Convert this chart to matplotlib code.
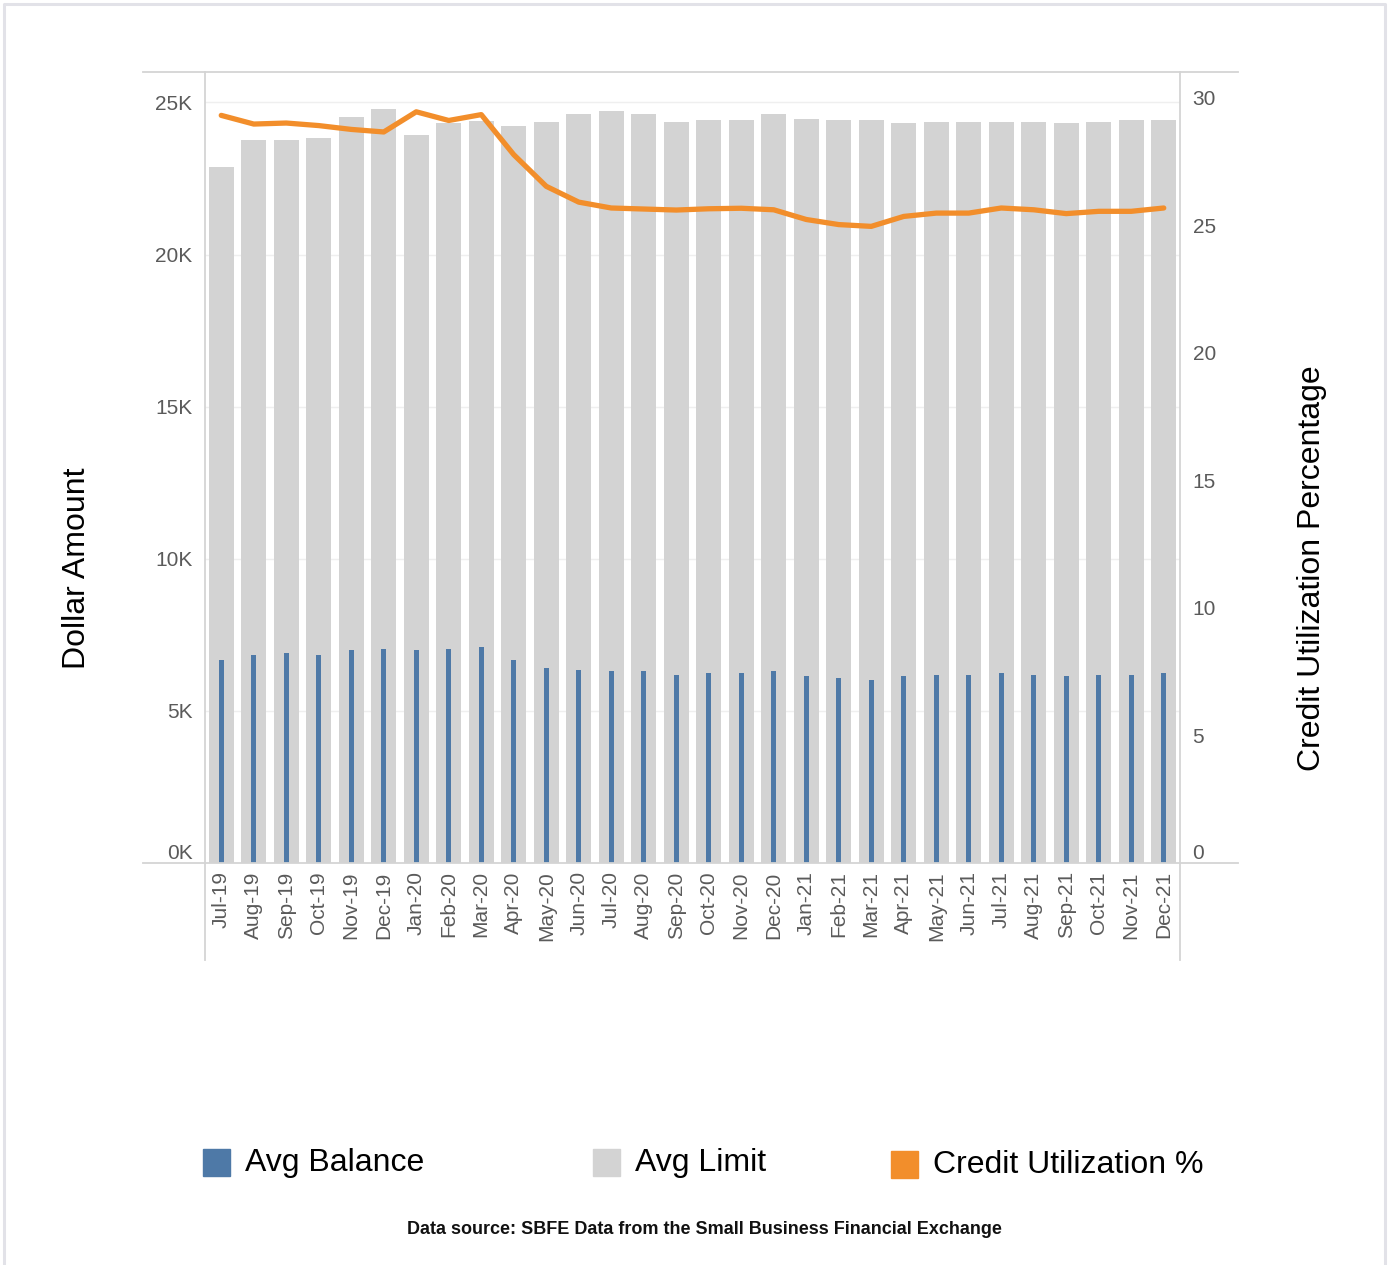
import matplotlib.pyplot as plt
from matplotlib.lines import Line2D
from matplotlib.patches import Rectangle
import numpy as np

# monthly SBFE figures, Jul 2019 - Dec 2021
months = ['Jul-19', 'Aug-19', 'Sep-19', 'Oct-19', 'Nov-19', 'Dec-19',
          'Jan-20', 'Feb-20', 'Mar-20', 'Apr-20', 'May-20', 'Jun-20',
          'Jul-20', 'Aug-20', 'Sep-20', 'Oct-20', 'Nov-20', 'Dec-20',
          'Jan-21', 'Feb-21', 'Mar-21', 'Apr-21', 'May-21', 'Jun-21',
          'Jul-21', 'Aug-21', 'Sep-21', 'Oct-21', 'Nov-21', 'Dec-21']

# dollars
avg_limit = [22870, 23780, 23780, 23830, 24530, 24790,
             23930, 24330, 24380, 24210, 24360, 24620,
             24730, 24620, 24360, 24410, 24410, 24620,
             24460, 24410, 24410, 24310, 24360, 24360,
             24360, 24360, 24310, 24360, 24410, 24410]

avg_balance = [6680, 6840, 6900, 6840, 7010, 7050,
               7010, 7050, 7110, 6680, 6410, 6360,
               6300, 6300, 6190, 6250, 6250, 6300,
               6140, 6090, 6030, 6140, 6190, 6190,
               6250, 6190, 6140, 6190, 6190, 6250]

# percent
utilization = [29.30, 28.96, 29.00, 28.90, 28.75, 28.65,
               29.44, 29.10, 29.33, 27.76, 26.52, 25.90,
               25.67, 25.63, 25.59, 25.64, 25.66, 25.60,
               25.22, 25.02, 24.95, 25.34, 25.47, 25.47,
               25.67, 25.60, 25.45, 25.54, 25.54, 25.67]

left_ticks = [0, 5000, 10000, 15000, 20000, 25000]
left_labels = ['0K', '5K', '10K', '15K', '20K', '25K']
right_ticks = [0, 5, 10, 15, 20, 25, 30]

BLUE = '#4e79a7'
GRAY = '#d3d3d3'
ORANGE = '#f28e2b'
RULE = '#d4d4d4'
TICK_COLOR = '#5a5a5a'
FONT = 'Liberation Sans'

plt.rcParams['font.family'] = [FONT, 'DejaVu Sans']

W, H = 1389, 1265
fig = plt.figure(figsize=(W / 100, H / 100), dpi=100)

# axes box in pixels
x0, x1, y_top, y_bot = 205, 1180, 72, 863
ax = fig.add_axes([x0 / W, 1 - y_bot / H, (x1 - x0) / W, (y_bot - y_top) / H])

x = np.arange(len(months))
ax.bar(x, avg_limit, width=0.76, color=GRAY, zorder=2)
ax.bar(x, avg_balance, width=0.16, color=BLUE, zorder=3)

ax.set_xlim(-0.5, len(months) - 0.5)
ax.set_ylim(0, 26000)
ax.set_yticks(left_ticks)
ax.set_yticklabels(left_labels)
ax.set_xticks(x)
ax.set_xticklabels(months, rotation=90)
ax.tick_params(axis='y', length=0, pad=9, labelsize=15, labelcolor=TICK_COLOR)
ax.tick_params(axis='x', length=0, pad=6, labelsize=15, labelcolor=TICK_COLOR)
ax.get_yticklabels()[0].set_va('bottom')
for yv in left_ticks[1:]:
    ax.axhline(yv, color='#efefef', lw=1, zorder=1)
for s in ax.spines.values():
    s.set_visible(False)

ax2 = ax.twinx()
ax2.plot(x, utilization, color=ORANGE, lw=3.8, solid_capstyle='round',
         solid_joinstyle='round', zorder=4)
ax2.set_ylim(0, 31)
ax2.set_yticks(right_ticks)
ax2.tick_params(axis='y', length=0, pad=9, labelsize=15, labelcolor=TICK_COLOR)
ax2.get_yticklabels()[0].set_va('bottom')
for s in ax2.spines.values():
    s.set_visible(False)

# frame rules that run past the plot area
def hline(y, xa, xb):
    fig.add_artist(Line2D([xa / W, xb / W], [1 - y / H, 1 - y / H],
                          color=RULE, lw=1.3))

def vline(xp, ya, yb):
    fig.add_artist(Line2D([xp / W, xp / W], [1 - ya / H, 1 - yb / H],
                          color=RULE, lw=1.3))

hline(y_top, 143, 1238)
hline(y_bot, 143, 1238)
vline(x0, y_top, 960)
vline(x1, y_top, 960)

# outer border
fig.add_artist(Line2D([4 / W, 4 / W, 1385 / W, 1385 / W],
                      [0, 1 - 4 / H, 1 - 4 / H, 0],
                      color='#e2e2e8', lw=2.2))

fig.text(77 / W, 1 - 568 / H, 'Dollar Amount', rotation=90, fontsize=23,
         ha='center', va='center', color='black')
fig.text(1312 / W, 1 - 568 / H, 'Credit Utilization Percentage', rotation=90,
         fontsize=23, ha='center', va='center', color='black')

# legend
legend_items = [('Avg Balance', BLUE, 203, 1163),
                ('Avg Limit', GRAY, 593, 1163),
                ('Credit Utilization %', ORANGE, 891, 1165)]
for label, col, lx, ly in legend_items:
    fig.add_artist(Rectangle((lx / W, 1 - (ly + 13) / H), 27 / W, 27 / H,
                             transform=fig.transFigure, color=col))
    fig.text((lx + 42) / W, 1 - ly / H, label, fontsize=23, ha='left',
             va='center', color='black')

fig.text(704 / W, 1 - 1230 / H,
         'Data source: SBFE Data from the Small Business Financial Exchange',
         fontsize=13, fontweight='bold', ha='center', va='center',
         color='#111111')

fig.savefig('out.png', dpi=100)
